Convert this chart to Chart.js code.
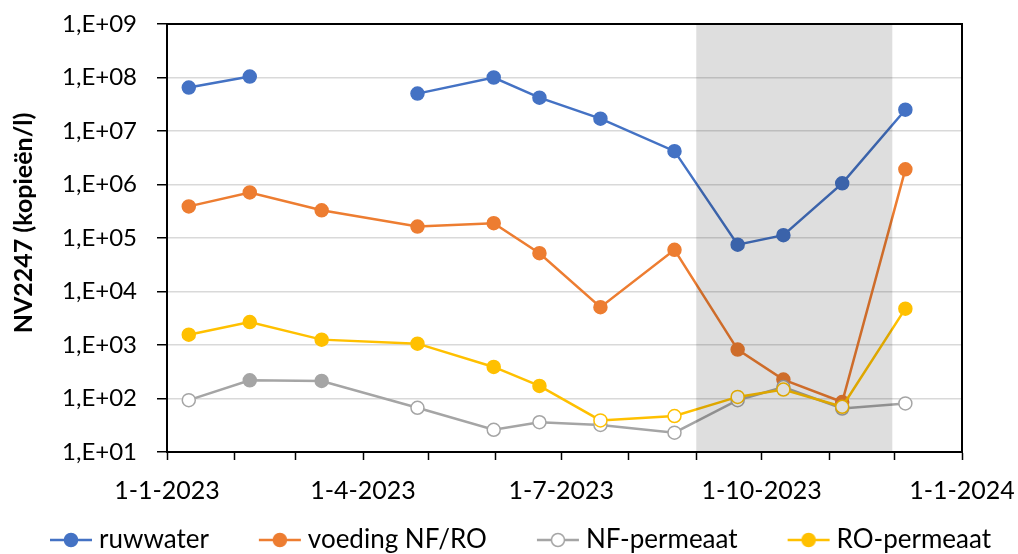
<!DOCTYPE html>
<html>
<head>
<meta charset="utf-8">
<title>NV2247</title>
<script src="https://cdn.jsdelivr.net/npm/chart.js@4/dist/chart.umd.min.js"></script>
<style>
  html, body { margin: 0; padding: 0; background: #fff; }
  #wrap { width: 1018px; height: 554px; }
</style>
</head>
<body>
<div id="wrap"><canvas id="chart" width="1018" height="554"></canvas></div>
<script>
(function () {
    'use strict';

    // -----------------------------------------------------------------------
    // Data
    // -----------------------------------------------------------------------
    const sampleDates = [
        '2023-01-11', '2023-02-08', '2023-03-13', '2023-04-26', '2023-05-31', '2023-06-21',
        '2023-07-19', '2023-08-22', '2023-09-20', '2023-10-11', '2023-11-07', '2023-12-06',
    ];
    const ruwwater    = [6.5e7, 1.04e8, null, 5.0e7, 1.0e8, 4.2e7, 1.7e7, 4.2e6, 7.5e4, 1.13e5, 1.05e6, 2.5e7];
    const voedingNfRo = [3.9e5, 7.1e5, 3.3e5, 1.64e5, 1.89e5, 5.2e4, 5.1e3, 6.0e4, 820, 226, 86, 1.92e6];
    const nfPermeaat  = [93, 219, 213, 67, 26, 36, 32, 23, 93, 164, 65, 81];
    const roPermeaat  = [1560, 2690, 1260, 1060, 389, 172, 39, 47, 107, 147, 70, 4780];

    // true = below the quantification limit (drawn as an open marker)
    const nfBelowLimit = [true, false, false, true, true, true, true, true, true, true, true, true];
    const roBelowLimit = [false, false, false, false, false, false, true, true, true, true, true, false];

    const seriesNames = ['ruwwater', 'voeding NF/RO', 'NF-permeaat', 'RO-permeaat'];

    const monthTicks = [
        '2023-01-01', '2023-02-01', '2023-03-01', '2023-04-01', '2023-05-01', '2023-06-01', '2023-07-01',
        '2023-08-01', '2023-09-01', '2023-10-01', '2023-11-01', '2023-12-01', '2024-01-01',
    ];
    const xTickLabels = ['1-1-2023', '', '', '1-4-2023', '', '', '1-7-2023', '', '', '1-10-2023', '', '', '1-1-2024'];

    const yTickValues = [1e1, 1e2, 1e3, 1e4, 1e5, 1e6, 1e7, 1e8, 1e9];
    const yTickLabels = ['1,E+01', '1,E+02', '1,E+03', '1,E+04', '1,E+05', '1,E+06', '1,E+07', '1,E+08', '1,E+09'];

    const shadedPeriod = ['2023-09-01', '2023-11-30'];
    const yTitle = 'NV2247 (kopieën/l)';

    // -----------------------------------------------------------------------
    // Styling
    // -----------------------------------------------------------------------
    const FONT = 'Lato';
    const BLUE = '#4472C4', ORANGE = '#ED7D31', GREY = '#A5A5A5', YELLOW = '#FFC000';

    function toTime(s) {
        return Date.parse(s + 'T00:00:00Z');
    }

    function points(values) {
        return sampleDates.map(function (d, i) { return { x: toTime(d), y: values[i] }; });
    }

    function fills(color, below) {
        return sampleDates.map(function (d, i) { return below && below[i] ? '#ffffff' : color; });
    }

    function makeDataset(label, values, color, below, order) {
        return {
            label: label,
            data: points(values),
            xAxisID: 'x',
            yAxisID: 'y',
            borderColor: color,
            backgroundColor: color,
            borderWidth: 2.5,
            pointRadius: 6.5,
            pointHoverRadius: 6.5,
            pointBorderWidth: 1.5,
            pointBorderColor: color,
            pointBackgroundColor: fills(color, below),
            spanGaps: false,
            tension: 0,
            order: order,
        };
    }

    // line + marker sample for the legend
    function legendIcon(color, hollow) {
        const c = document.createElement('canvas');
        c.width = 90;
        c.height = 20;
        const g = c.getContext('2d');
        g.strokeStyle = color;
        g.lineWidth = 2.5;
        g.beginPath();
        g.moveTo(46, 10);
        g.lineTo(88, 10);
        g.stroke();
        g.beginPath();
        g.arc(67, 10, 6.5, 0, Math.PI * 2);
        g.fillStyle = hollow ? '#ffffff' : color;
        g.fill();
        g.lineWidth = 1.5;
        g.stroke();
        return c;
    }

    const icons = [
        legendIcon(BLUE, false),
        legendIcon(ORANGE, false),
        legendIcon(GREY, true),
        legendIcon(YELLOW, false),
    ];

    // grey overlay for the period + frame round the plot area + y title
    const decorPlugin = {
        id: 'decor',
        afterDatasetsDraw: function (chart) {
            const ctx = chart.ctx;
            const a = chart.chartArea;
            const x = chart.scales.x;
            const x0 = x.getPixelForValue(toTime(shadedPeriod[0]));
            const x1 = x.getPixelForValue(toTime(shadedPeriod[1]));
            ctx.save();
            ctx.fillStyle = 'rgba(0,0,0,0.13)';
            ctx.fillRect(x0, a.top, x1 - x0, a.bottom - a.top);
            ctx.strokeStyle = '#000';
            ctx.lineWidth = 2;
            ctx.strokeRect(a.left, a.top, a.right - a.left, a.bottom - a.top);
            ctx.restore();
        },
        afterDraw: function (chart) {
            const ctx = chart.ctx;
            ctx.save();
            ctx.translate(24, 223);
            ctx.rotate(-Math.PI / 2);
            ctx.font = 'bold 25px ' + FONT;
            ctx.fillStyle = '#000';
            ctx.textAlign = 'center';
            ctx.textBaseline = 'middle';
            ctx.fillText(yTitle, 0, 0);
            ctx.restore();
        },
    };

    new Chart(document.getElementById('chart'), {
        type: 'line',
        data: {
            datasets: [
                makeDataset(seriesNames[0], ruwwater, BLUE, null, 4),
                makeDataset(seriesNames[1], voedingNfRo, ORANGE, null, 3),
                makeDataset(seriesNames[2], nfPermeaat, GREY, nfBelowLimit, 2),
                makeDataset(seriesNames[3], roPermeaat, YELLOW, roBelowLimit, 1),
            ],
        },
        options: {
            responsive: false,
            animation: false,
            layout: { padding: { top: 24, left: 0, right: 0, bottom: -9 } },
            plugins: {
                tooltip: { enabled: false },
                legend: {
                    position: 'bottom',
                    align: 'start',
                    labels: {
                        usePointStyle: true,
                        pointStyleWidth: 74,
                        padding: 12,
                        color: '#000',
                        font: { family: FONT, size: 26 },
                        generateLabels: function (chart) {
                            return chart.data.datasets.map(function (ds, i) {
                                return {
                                    text: ds.label,
                                    datasetIndex: i,
                                    pointStyle: icons[i],
                                    fillStyle: ds.borderColor,
                                    strokeStyle: ds.borderColor,
                                    lineWidth: 0,
                                    hidden: false,
                                    fontColor: '#000',
                                };
                            });
                        },
                    },
                },
            },
            scales: {
                x: {
                    type: 'linear',
                    position: 'bottom',
                    min: toTime(monthTicks[0]),
                    max: toTime(monthTicks[monthTicks.length - 1]),
                    afterBuildTicks: function (s) {
                        s.ticks = monthTicks.map(function (d) { return { value: toTime(d) }; });
                    },
                    afterFit: function (s) {
                        s.height = 63;
                        s.paddingLeft = 0;
                        s.paddingRight = 0;
                    },
                    ticks: {
                        autoSkip: false,
                        maxRotation: 0,
                        padding: 16,
                        color: '#000',
                        font: { family: FONT, size: 25 },
                        callback: function (v, i) { return xTickLabels[i]; },
                    },
                    grid: {
                        drawOnChartArea: false,
                        drawTicks: true,
                        tickLength: 8,
                        tickColor: '#000',
                        tickWidth: 1.5,
                    },
                    border: { display: true, color: '#000', width: 2 },
                },
                y: {
                    type: 'logarithmic',
                    position: 'left',
                    min: 10,
                    max: 1e9,
                    afterBuildTicks: function (s) {
                        s.ticks = yTickValues.map(function (v) { return { value: v }; });
                    },
                    afterFit: function (s) {
                        s.width = 167;
                        s.paddingTop = 0;
                        s.paddingBottom = 0;
                    },
                    ticks: {
                        padding: 20,
                        color: '#000',
                        font: { family: FONT, size: 24 },
                        callback: function (v, i) { return yTickLabels[i]; },
                    },
                    grid: {
                        color: '#d9d9d9',
                        lineWidth: 1.5,
                        tickLength: 10,
                        tickColor: '#000',
                        tickWidth: 1.5,
                    },
                    border: { display: true, color: '#000', width: 2 },
                },
                yRight: {
                    type: 'linear',
                    position: 'right',
                    display: true,
                    grid: { display: false },
                    ticks: { display: false },
                    border: { display: false },
                    afterFit: function (s) {
                        s.width = 56;
                        s.paddingTop = 0;
                        s.paddingBottom = 0;
                    },
                },
            },
        },
        plugins: [decorPlugin],
    });
})();
</script>
</body>
</html>
